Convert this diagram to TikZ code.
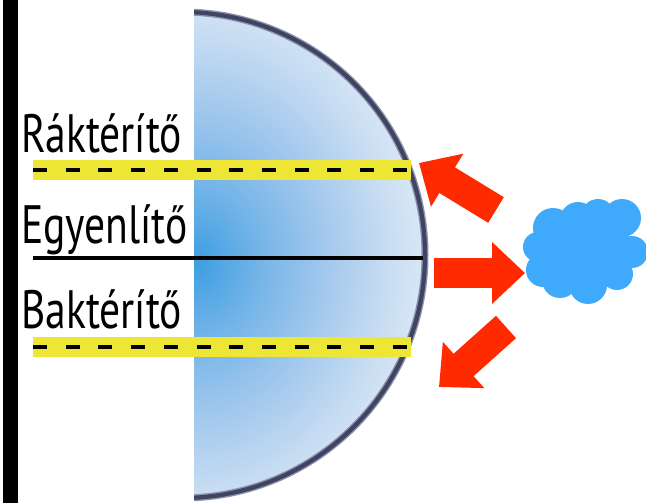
\documentclass[tikz,border=0pt]{standalone}
\usepackage{fontspec}
\usetikzlibrary{arrows.meta}
\newfontfamily\labelfont[FakeStretch=0.77]{PT Sans}
\definecolor{globeA}{RGB}{61,158,226}
\definecolor{globeB}{RGB}{118,181,232}
\definecolor{globeC}{RGB}{164,201,237}
\definecolor{globeD}{RGB}{200,221,242}
\definecolor{globeE}{RGB}{222,234,246}
\definecolor{rim}{RGB}{62,68,98}
\definecolor{rimsoft}{RGB}{140,146,172}
\definecolor{band}{RGB}{238,230,52}
\definecolor{heat}{RGB}{255,42,0}
\definecolor{cloudblue}{RGB}{63,169,251}
% shaded on an ellipse: 25bp of the shading reaches the ellipse rim
\pgfdeclareradialshading{globeshade}{\pgfpoint{0bp}{0bp}}{%
  color(0bp)=(globeA); color(5.5bp)=(globeB); color(11bp)=(globeC);
  color(16bp)=(globeD); color(20bp)=(globeE); color(50bp)=(globeE)}
\tikzset{
  tropic/.style={line width=20pt, draw=band},
  tropicdash/.style={line width=4.5pt, draw=black, dash pattern=on 14pt off 18.7pt},
  zone/.style={anchor=base west, inner sep=0pt, font=\labelfont\fontsize{54}{54}\selectfont},
  ray/.style={line width=30pt, draw=heat, -{Triangle[length=33pt,width=60pt]}},
  puff/.style={fill=cloudblue},
}
\begin{document}
\begin{tikzpicture}[x=1pt,y=-1pt]
\useasboundingbox[fill=white] (0,0) rectangle (646,503);
% left wall
\fill[black] (3,0) rectangle (18,503);
% shaded half globe
\begin{scope}
  \clip (194,0) rectangle (660,520);
  \begin{scope}
    \clip (182,255) circle (243pt);
    \shade[shading=globeshade] (196,262) ellipse (300pt and 360pt);
  \end{scope}
  \draw[rimsoft, line width=7pt] (182,255) circle (243pt);
  \draw[rim, line width=4.2pt] (182,255) circle (243pt);
\end{scope}
% latitude lines
\coordinate (rakL) at (33,170);  \coordinate (rakR) at (411,170);
\coordinate (eqL)  at (33,258);  \coordinate (eqR)  at (423,258);
\coordinate (bakL) at (33,347);  \coordinate (bakR) at (411,347);
\draw[tropic] (rakL) -- (rakR);
\draw[tropicdash] (rakL) -- (rakR);
\draw[tropic] (bakL) -- (bakR);
\draw[tropicdash] (bakL) -- (bakR);
\draw[line width=4pt] (eqL) -- (eqR);
% labels
\node[zone] (rak) at (21,152) {Ráktérítő};
\node[zone] (eq)  at (21,243) {Egyenlítő};
\node[zone] (bak) at (21,328) {Baktérítő};
% cloud
\begin{scope}
  \fill[puff] (588,252) ellipse (46pt and 34pt);
  \fill[puff] (553,228) circle (20pt);
  \fill[puff] (578,220) circle (18pt);
  \fill[puff] (598,216) circle (17pt);
  \fill[puff] (622,218) circle (19pt);
  \fill[puff] (632,252) circle (16pt);
  \fill[puff] (538,247) circle (15pt);
  \fill[puff] (543,270) circle (17pt);
  \fill[puff] (560,280) circle (18pt);
  \fill[puff] (588,285) circle (19pt);
  \fill[puff] (617,274) circle (16pt);
\end{scope}
\coordinate (cloudL) at (525,273);
% heat rays
\coordinate (r1tail) at (496,210); \coordinate (r1tip) at (419,163);
\coordinate (r2tail) at (434,273);
\coordinate (r3tail) at (506,327); \coordinate (r3tip) at (439,387);
\draw[ray] (r1tail) -- (r1tip);
\draw[ray] (r2tail) -- (cloudL);
\draw[ray] (r3tail) -- (r3tip);
\end{tikzpicture}
\end{document}
